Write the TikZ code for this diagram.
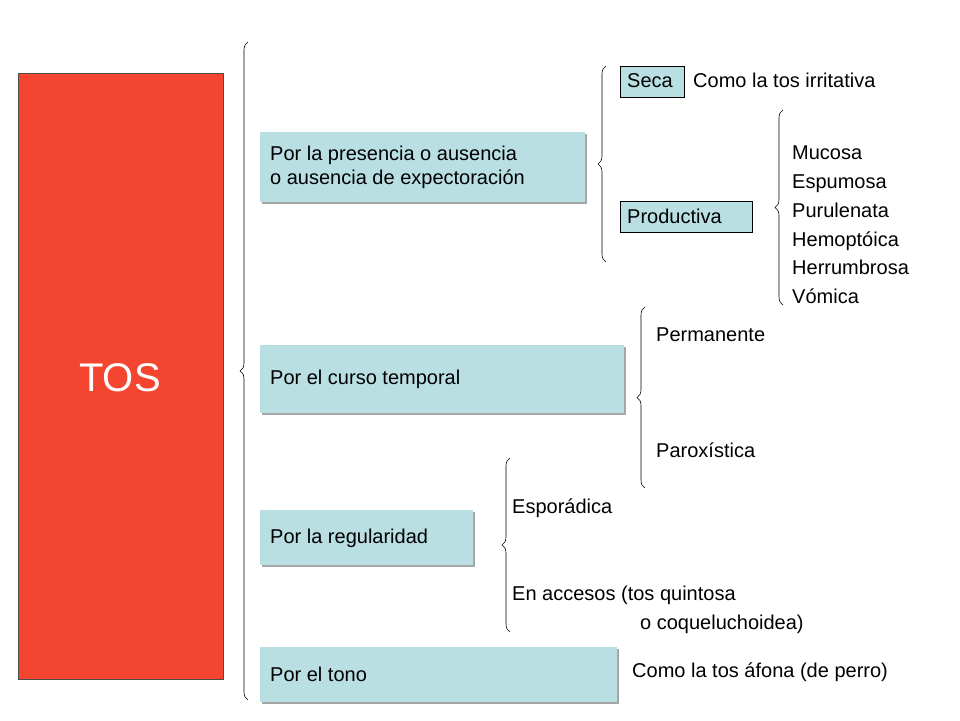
\documentclass[tikz,border=0pt]{standalone}
\usepackage{fontspec}
\setmainfont{Liberation Sans}
\usetikzlibrary{decorations.pathreplacing,shadows}
\definecolor{boxblue}{HTML}{B9DFE3}
\definecolor{tosred}{HTML}{F44530}
\begin{document}
\begin{tikzpicture}[x=1pt,y=1pt,
  cat/.style={fill=boxblue,draw=none,anchor=north west,inner sep=0pt,
     drop shadow={shadow xshift=2pt,shadow yshift=-2pt,fill=gray!70,opacity=1}},
  lab/.style={anchor=west,inner sep=0pt,font=\fontsize{20}{24}\selectfont},
  sbox/.style={fill=boxblue,draw=black,line width=0.6pt,anchor=north west,inner sep=0pt,font=\fontsize{20}{24}\selectfont},
  br/.style={decorate,decoration={brace,amplitude=8pt},line width=0.6pt}]
\useasboundingbox (0,0) rectangle (960,-720);
\node[fill=tosred,draw=black!70,line width=0.5pt,minimum width=205pt,minimum height=606pt,anchor=north west,inner sep=0pt] (tos) at (18,-73) {};
\node[text=white,font=\fontsize{40}{48}\selectfont] (tost) at (120,-378) {TOS};
\node[cat,minimum width=325pt,minimum height=70pt] (b1) at (260,-132) {};
\node[cat,minimum width=364pt,minimum height=68pt] (b2) at (260,-345) {};
\node[cat,minimum width=213pt,minimum height=55pt] (b3) at (260,-510) {};
\node[cat,minimum width=357pt,minimum height=55pt] (b4) at (260,-647) {};
\node[lab,align=left] (t1) at (270,-167) {Por la presencia o ausencia\\o ausencia de expectoración};
\node[lab] (t2) at (270,-379) {Por el curso temporal};
\node[lab] (t3) at (270,-538) {Por la regularidad};
\node[lab] (t4) at (270,-674) {Por el tono};
\node[sbox,minimum width=64pt,minimum height=31pt] (seca) at (620,-66) {};
\node[lab] (secat) at (627,-81) {Seca};
\node[sbox,minimum width=132pt,minimum height=31pt] (prod) at (620,-201) {};
\node[lab] (prodt) at (627,-216) {Productiva};
\node[lab] (irr) at (693,-80) {Como la tos irritativa};
\node[lab,align=left,font=\fontsize{20}{28.8}\selectfont] (list) at (792,-225) {Mucosa\\Espumosa\\Purulenata\\Hemoptóica\\Herrumbrosa\\Vómica};
\node[lab] (perm) at (656,-335) {Permanente};
\node[lab] (parox) at (656,-450) {Paroxística};
\node[lab] (espo) at (512,-508) {Esporádica};
\node[lab] (acc1) at (512,-595) {En accesos (tos quintosa};
\node[lab] (acc2) at (640,-624) {o coqueluchoidea)};
\node[lab] (afona) at (632,-672) {Como la tos áfona (de perro)};
\coordinate (m0a) at (248,-700); \coordinate (m0b) at (248,-42);
\draw[br] (m0a) -- (m0b);
\coordinate (m1a) at (606,-262); \coordinate (m1b) at (606,-66);
\draw[br] (m1a) -- (m1b);
\coordinate (m2a) at (783,-305); \coordinate (m2b) at (783,-110);
\draw[br] (m2a) -- (m2b);
\coordinate (m3a) at (645,-488); \coordinate (m3b) at (645,-307);
\draw[br] (m3a) -- (m3b);
\coordinate (m4a) at (510,-632); \coordinate (m4b) at (510,-458);
\draw[br] (m4a) -- (m4b);
\end{tikzpicture}
\end{document}
